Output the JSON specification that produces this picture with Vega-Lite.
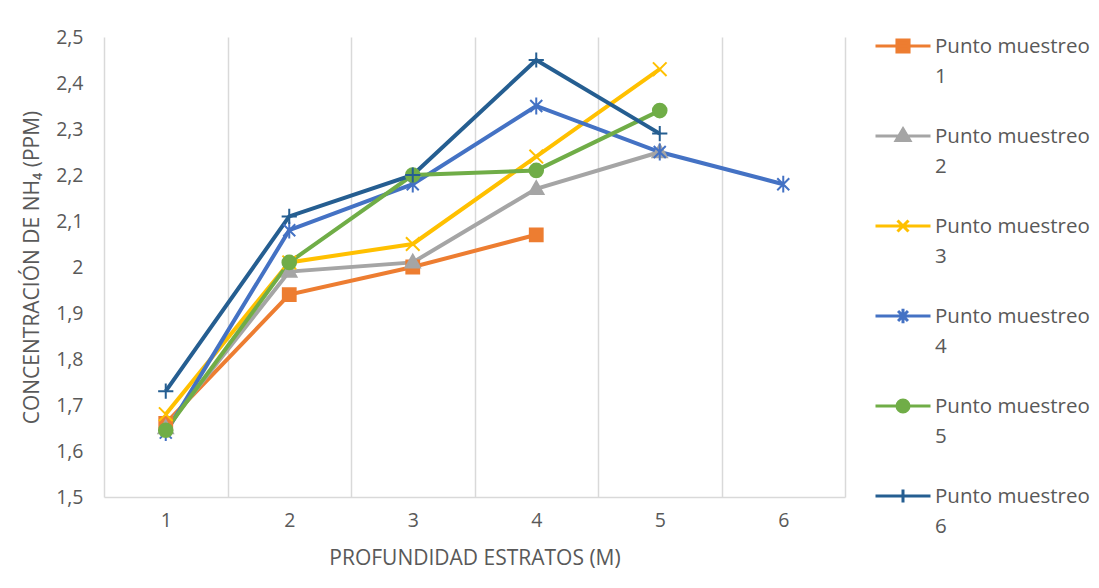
{
  "$schema": "https://vega.github.io/schema/vega-lite/v6.json",
  "width": 741,
  "height": 460,
  "autosize": {"type": "none"},
  "padding": {"left": 104, "top": 37, "right": 254, "bottom": 91},
  "background": "white",
  "config": {
    "view": {"stroke": null},
    "font": "Open Sans",
    "axis": {
      "labelFont": "Open Sans",
      "titleFont": "Open Sans",
      "labelColor": "#595959",
      "titleColor": "#595959",
      "labelFontSize": 19.5,
      "titleFontSize": 21,
      "titleFontWeight": "normal"
    },
    "point": {"filled": true, "size": 256, "strokeWidth": 2, "opacity": 1}
  },
  "data": {
    "values": [
      {"prof": 1, "nh4": 1.66, "punto": "Punto muestreo 1"},
      {"prof": 2, "nh4": 1.94, "punto": "Punto muestreo 1"},
      {"prof": 3, "nh4": 2.00, "punto": "Punto muestreo 1"},
      {"prof": 4, "nh4": 2.07, "punto": "Punto muestreo 1"},
      {"prof": 1, "nh4": 1.65, "punto": "Punto muestreo 2"},
      {"prof": 2, "nh4": 1.99, "punto": "Punto muestreo 2"},
      {"prof": 3, "nh4": 2.01, "punto": "Punto muestreo 2"},
      {"prof": 4, "nh4": 2.17, "punto": "Punto muestreo 2"},
      {"prof": 5, "nh4": 2.25, "punto": "Punto muestreo 2"},
      {"prof": 1, "nh4": 1.68, "punto": "Punto muestreo 3"},
      {"prof": 2, "nh4": 2.01, "punto": "Punto muestreo 3"},
      {"prof": 3, "nh4": 2.05, "punto": "Punto muestreo 3"},
      {"prof": 4, "nh4": 2.24, "punto": "Punto muestreo 3"},
      {"prof": 5, "nh4": 2.43, "punto": "Punto muestreo 3"},
      {"prof": 1, "nh4": 1.64, "punto": "Punto muestreo 4"},
      {"prof": 2, "nh4": 2.08, "punto": "Punto muestreo 4"},
      {"prof": 3, "nh4": 2.18, "punto": "Punto muestreo 4"},
      {"prof": 4, "nh4": 2.35, "punto": "Punto muestreo 4"},
      {"prof": 5, "nh4": 2.25, "punto": "Punto muestreo 4"},
      {"prof": 6, "nh4": 2.18, "punto": "Punto muestreo 4"},
      {"prof": 1, "nh4": 1.645, "punto": "Punto muestreo 5"},
      {"prof": 2, "nh4": 2.01, "punto": "Punto muestreo 5"},
      {"prof": 3, "nh4": 2.20, "punto": "Punto muestreo 5"},
      {"prof": 4, "nh4": 2.21, "punto": "Punto muestreo 5"},
      {"prof": 5, "nh4": 2.34, "punto": "Punto muestreo 5"},
      {"prof": 1, "nh4": 1.73, "punto": "Punto muestreo 6"},
      {"prof": 2, "nh4": 2.11, "punto": "Punto muestreo 6"},
      {"prof": 3, "nh4": 2.20, "punto": "Punto muestreo 6"},
      {"prof": 4, "nh4": 2.45, "punto": "Punto muestreo 6"},
      {"prof": 5, "nh4": 2.29, "punto": "Punto muestreo 6"}
    ]
  },
  "encoding": {
    "x": {
      "field": "prof",
      "type": "ordinal",
      "scale": {"type": "band", "paddingInner": 0, "paddingOuter": 0},
      "axis": {
        "title": "PROFUNDIDAD ESTRATOS (M)",
        "labelAngle": 0,
        "tickBand": "extent",
        "grid": true,
        "gridColor": "#d9d9d9",
        "gridWidth": 1.5,
        "ticks": false,
        "domainColor": "#d9d9d9",
        "domainWidth": 1.5,
        "labelPadding": 14,
        "titlePadding": 18
      }
    },
    "y": {
      "field": "nh4",
      "type": "quantitative",
      "scale": {"domain": [1.5, 2.5], "nice": false, "zero": false},
      "axis": {
        "title": "CONCENTRACIÓN DE NH₄ (PPM)",
        "values": [1.5, 1.6, 1.7, 1.8, 1.9, 2.0, 2.1, 2.2, 2.3, 2.4, 2.5],
        "labelExpr": "replace(format(datum.value, '.1~f'), '.', ',')",
        "grid": false,
        "domain": false,
        "ticks": false,
        "labelPadding": 21,
        "titlePadding": 13
      }
    }
  },
  "layer": [
    {
      "mark": {"type": "line", "strokeWidth": 4},
      "encoding": {
        "color": {
          "field": "punto",
          "type": "nominal",
          "scale": {
            "domain": ["Punto muestreo 1", "Punto muestreo 2", "Punto muestreo 3", "Punto muestreo 4", "Punto muestreo 5", "Punto muestreo 6"],
            "range": ["#ED7D31", "#A5A5A5", "#FFC000", "#4472C4", "#70AD47", "#255E91"]
          },
          "legend": {
            "title": null,
            "orient": "none",
            "legendX": 770,
            "legendY": -20,
            "padding": 0,
            "symbolSize": 3025,
            "symbolStrokeWidth": 3,
            "labelFont": "Open Sans",
            "labelFontSize": 20.5,
            "labelColor": "#595959",
            "labelLimit": 400,
            "labelOffset": 3,
            "rowPadding": 19,
            "labelExpr": "['Punto muestreo', substring(datum.label, 15)]",
            "encode": {
              "symbols": {
                "update": {
                  "shape": {"signal": "datum.value == 'Punto muestreo 1' ? 'M-1,0H1M-0.22,-0.22H0.22V0.22H-0.22Z' : datum.value == 'Punto muestreo 2' ? 'M-1,0H1M0,-0.26L0.25,0.16H-0.25Z' : datum.value == 'Punto muestreo 3' ? 'M-1,0H1M-0.2,-0.2L0.2,0.2M-0.2,0.2L0.2,-0.2' : datum.value == 'Punto muestreo 4' ? 'M-1,0H1M-0.18,-0.18L0.18,0.18M-0.18,0.18L0.18,-0.18M0,-0.26V0.26' : datum.value == 'Punto muestreo 5' ? 'M-1,0H1M0.22,0A0.22,0.22 0 1,1 -0.22,0A0.22,0.22 0 1,1 0.22,0Z' : 'M-1,0H1M0,-0.24V0.24'"},
                  "fill": {"signal": "scale('color', datum.value)"},
                  "stroke": {"signal": "scale('color', datum.value)"},
                  "strokeWidth": {"value": 3}
                }
              },
              "labels": {
                "update": {
                  "baseline": {"value": "alphabetic"},
                  "dy": {"value": 7},
                  "lineHeight": {"value": 30}
                }
              }
            }
          }
        }
      }
    },
    {
      "transform": [{"filter": "datum.punto == 'Punto muestreo 1'"}],
      "mark": {"type": "point", "shape": "M-0.8,-0.8H0.8V0.8H-0.8Z", "color": "#ED7D31", "stroke": "#ED7D31"}
    },
    {
      "transform": [{"filter": "datum.punto == 'Punto muestreo 2'"}],
      "mark": {"type": "point", "shape": "M0,-0.95L0.9,0.65H-0.9Z", "color": "#A5A5A5", "stroke": "#A5A5A5"}
    },
    {
      "transform": [{"filter": "datum.punto == 'Punto muestreo 3'"}],
      "mark": {"type": "point", "shape": "M-0.85,-0.85L0.85,0.85M-0.85,0.85L0.85,-0.85", "color": "#FFC000", "stroke": "#FFC000"}
    },
    {
      "transform": [{"filter": "datum.punto == 'Punto muestreo 4'"}],
      "mark": {"type": "point", "shape": "M-0.75,-0.75L0.75,0.75M-0.75,0.75L0.75,-0.75M0,-1.05V1.05", "color": "#4472C4", "stroke": "#4472C4"}
    },
    {
      "transform": [{"filter": "datum.punto == 'Punto muestreo 5'"}],
      "mark": {"type": "point", "shape": "M0.85,0A0.85,0.85 0 1,1 -0.85,0A0.85,0.85 0 1,1 0.85,0Z", "color": "#70AD47", "stroke": "#70AD47"}
    },
    {
      "transform": [{"filter": "datum.punto == 'Punto muestreo 6'"}],
      "mark": {"type": "point", "shape": "M-0.95,0H0.95M0,-0.95V0.95", "color": "#255E91", "stroke": "#255E91"}
    }
  ]
}
